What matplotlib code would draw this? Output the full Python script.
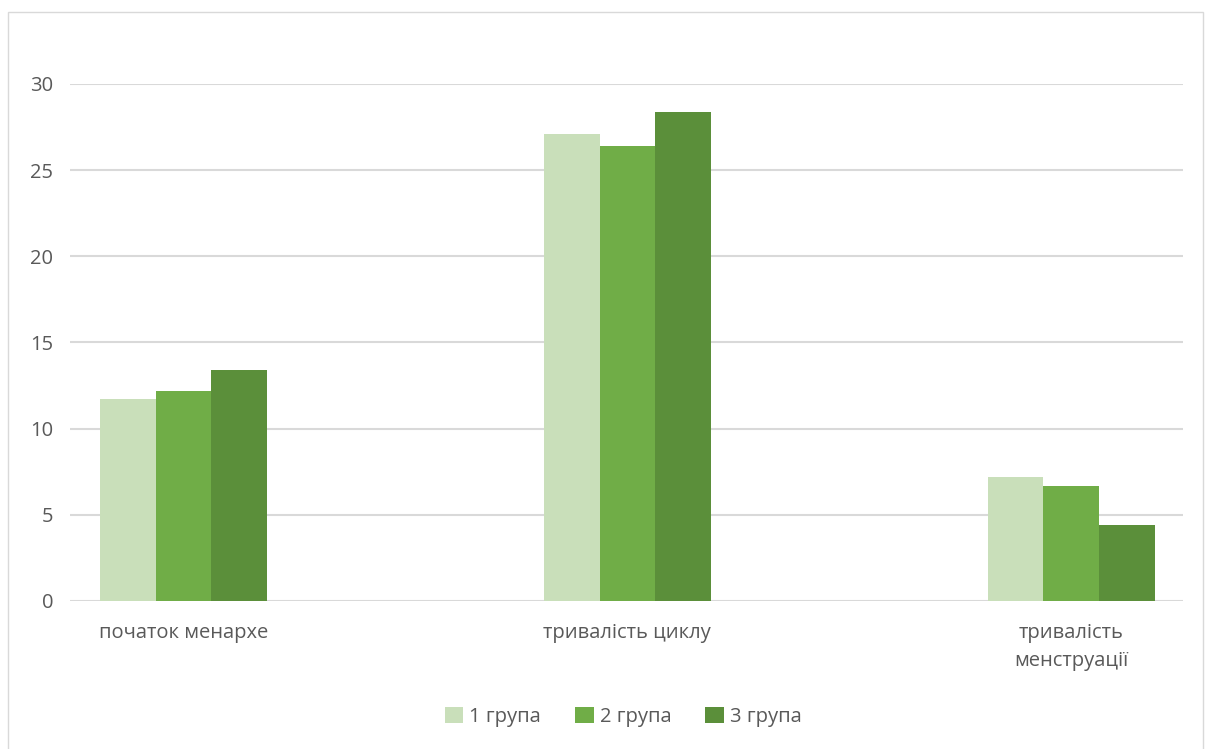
import matplotlib
matplotlib.use("Agg")
import matplotlib.pyplot as plt
from matplotlib.patches import Rectangle
import numpy as np

plt.rcParams['font.family'] = ['Open Sans', 'DejaVu Sans']

categories = ["початок менархе", "тривалість циклу", "тривалість\nменструації"]
groups = ["1 група", "2 група", "3 група"]
values = [
    [11.7, 27.1, 7.2],
    [12.2, 26.4, 6.7],
    [13.4, 28.4, 4.4],
]
colors = ["#C9DFBA", "#70AD47", "#5B8F3A"]
text_color = "#595959"

fig = plt.figure(figsize=(12.08, 7.49), dpi=100)
ax = fig.add_axes([0.058, 0.1976, 0.921, 0.6903])

x = np.arange(len(categories))
w = 0.1254
for i, (name, vals, c) in enumerate(zip(groups, values, colors)):
    ax.bar(x + (i - 1) * w, vals, width=w, color=c, label=name, zorder=3)

ax.set_xlim(-0.2556, 2.251)
ax.set_ylim(0, 30)
ax.set_yticks(range(0, 31, 5))
ax.grid(axis="y", color="#D9D9D9", linewidth=1.5, zorder=0)
ax.set_xticks(x)
ax.set_xticklabels(categories, linespacing=1.5)
ax.tick_params(axis="both", length=0, colors=text_color, labelsize=14.5)
ax.tick_params(axis="x", pad=16)
ax.tick_params(axis="y", pad=12)
for s in ax.spines.values():
    s.set_visible(False)

leg = fig.legend(loc="center", bbox_to_anchor=(0.516, 0.043), ncol=3,
                 frameon=False, fontsize=14.5, handlelength=0.9, handleheight=0.9,
                 handletextpad=0.3, columnspacing=1.7)
for t in leg.get_texts():
    t.set_color(text_color)

fig.patches.append(Rectangle((8 / 1208, -0.01), 1195 / 1208, 1 - 12 / 749 + 0.01,
                             transform=fig.transFigure, fill=False,
                             edgecolor="#D9D9D9", linewidth=1.0))

fig.savefig("out.png", dpi=100)
